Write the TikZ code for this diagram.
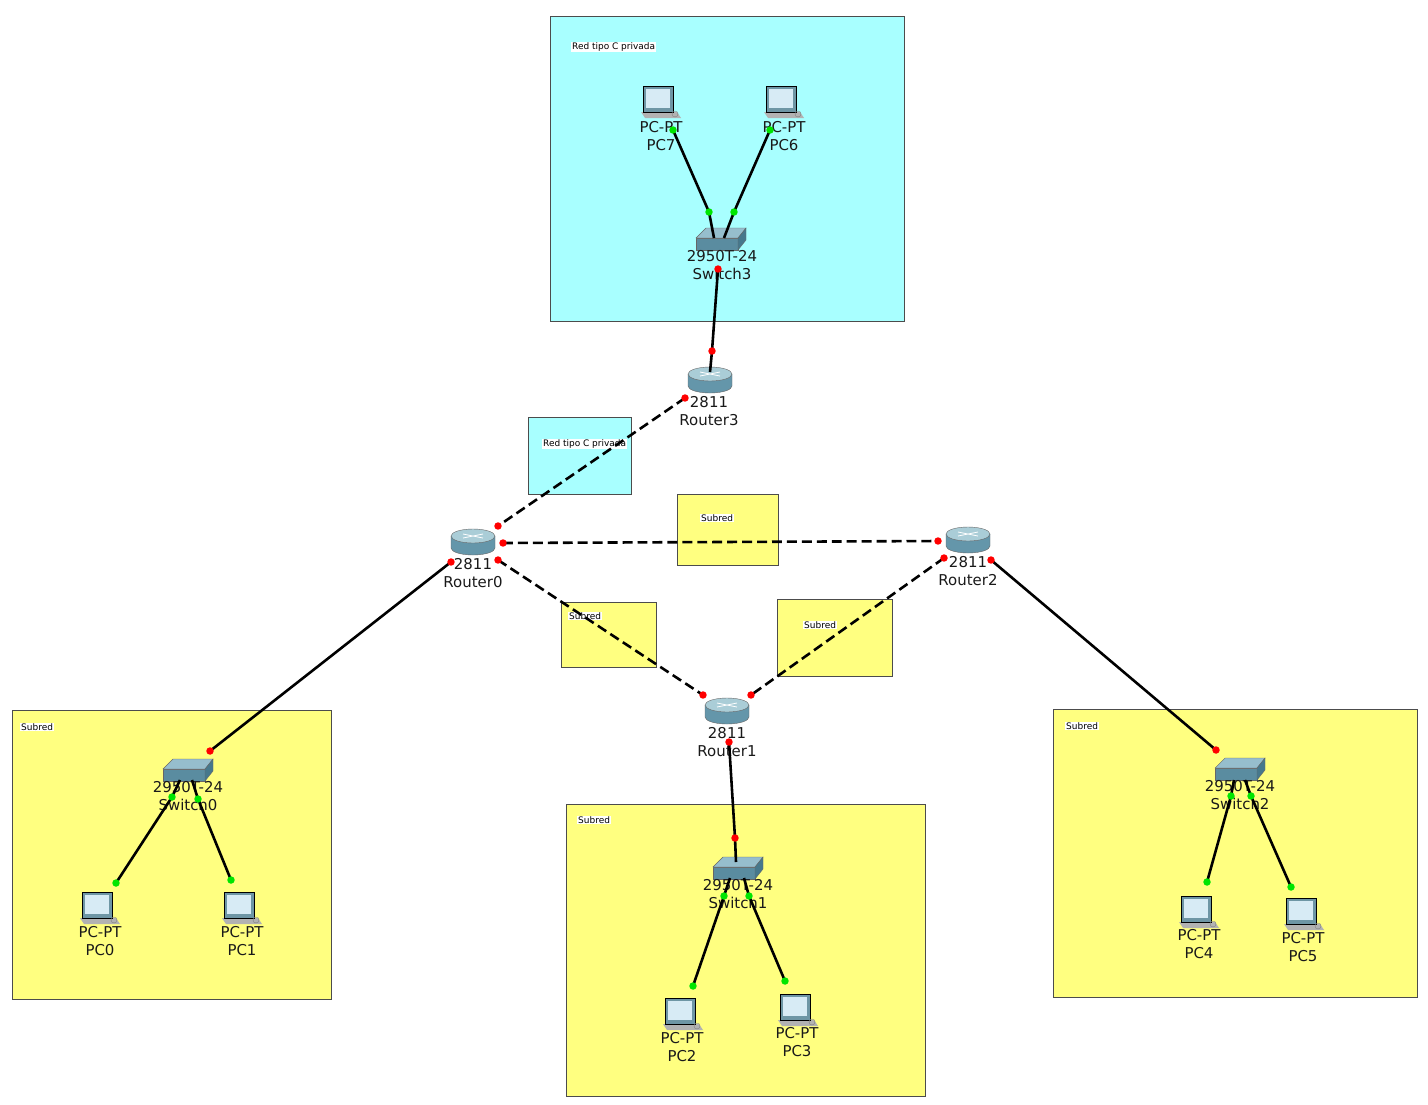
\documentclass[tikz,border=0pt]{standalone}
\usepackage{fontspec}
\setmainfont{DejaVu Sans}
\definecolor{cyanbg}{RGB}{168,255,255}
\definecolor{yelbg}{RGB}{255,255,128}
\definecolor{monfr}{RGB}{110,150,165}
\definecolor{monsc}{RGB}{215,235,245}
\definecolor{swfront}{RGB}{90,140,160}
\definecolor{swtop}{RGB}{150,190,205}
\definecolor{swside}{RGB}{70,120,140}
\definecolor{rtbody}{RGB}{100,150,170}
\definecolor{rttop}{RGB}{170,205,215}
\begin{document}
\begin{tikzpicture}[x=1bp,y=-1bp,
  area/.style={draw=black!70,line width=0.8pt},
  cyanA/.style={area,fill=cyanbg},
  yelA/.style={area,fill=yelbg},
  tag/.style={fill=white,inner sep=1pt,anchor=west,font=\fontsize{9}{10}\selectfont},
  lbl/.style={align=center,font=\fontsize{15}{18}\selectfont,text=black!90,anchor=north,inner sep=0pt},
  link/.style={line width=2.6pt,black},
  dlink/.style={link,dash pattern=on 10pt off 5pt},
  rd/.style={circle,fill=red,inner sep=0pt,minimum size=7.5pt},
  gd/.style={circle,fill=green!90!black,inner sep=0pt,minimum size=7.5pt}]
\useasboundingbox (0,0) rectangle (1428,1104);
\newcommand\pcicon[2]{%
  \begin{scope}[shift={(#1,#2)}]
  \fill[gray!60] (-18,10) -- (18,10) -- (22,16) -- (-14,16) -- cycle;
  \draw[fill=monfr] (-16,-16) rectangle (14,10);
  \fill[monsc] (-13,-13) rectangle (11,6);
  \draw[gray] (16,12) circle (3bp);
  \end{scope}}
\newcommand\swicon[2]{%
  \begin{scope}[shift={(#1,#2)}]
  \draw[black!60,fill=swfront] (-24,0) -- (18,0) -- (18,12) -- (-24,12) -- cycle;
  \draw[black!60,fill=swtop] (-24,0) -- (-14,-10) -- (26,-10) -- (18,0) -- cycle;
  \draw[black!60,fill=swside] (18,0) -- (26,-10) -- (26,2) -- (18,12) -- cycle;
  \end{scope}}
\newcommand\rticon[2]{%
  \begin{scope}[shift={(#1,#2)}]
  \draw[black!60,fill=rtbody] (-22,0) -- (-22,12) arc[start angle=180,end angle=0,x radius=22,y radius=7] -- (22,0);
  \draw[black!60,fill=rttop] (0,0) ellipse[x radius=22,y radius=7];
  \draw[white,thick] (-10,-2)--(10,2) (-10,2)--(10,-2);
  \end{scope}}
% areas
\node[cyanA,minimum width=354bp,minimum height=305bp,anchor=north west] (a1) at (550,16) {};
\node[tag] (t1) at (571,47) {Red tipo C privada};
\node[cyanA,minimum width=103bp,minimum height=77bp,anchor=north west] (a2) at (528,417) {};
\node[tag] (t2) at (542,444) {Red tipo C privada};
\node[yelA,minimum width=101bp,minimum height=71bp,anchor=north west] (a3) at (677,494) {};
\node[tag] (t3) at (700,518) {Subred};
\node[yelA,minimum width=95bp,minimum height=65bp,anchor=north west] (a4) at (561,602) {};
\node[tag] (t4) at (568,616) {Subred};
\node[yelA,minimum width=115bp,minimum height=77bp,anchor=north west] (a5) at (777,599) {};
\node[tag] (t5) at (803,625) {Subred};
\node[yelA,minimum width=319bp,minimum height=289bp,anchor=north west] (a6) at (12,710) {};
\node[tag] (t6) at (20,727) {Subred};
\node[yelA,minimum width=359bp,minimum height=292bp,anchor=north west] (a7) at (566,804) {};
\node[tag] (t7) at (577,820) {Subred};
\node[yelA,minimum width=364bp,minimum height=288bp,anchor=north west] (a8) at (1053,709) {};
\node[tag] (t8) at (1065,726) {Subred};
% icons
\pcicon{659}{102}\pcicon{782}{102}
\pcicon{98}{908}\pcicon{240}{908}
\pcicon{681}{1014}\pcicon{796}{1010}
\pcicon{1197}{912}\pcicon{1302}{914}
\swicon{720}{238}\swicon{187}{769}\swicon{737}{867}\swicon{1239}{768}
\rticon{710}{374}\rticon{473}{536}\rticon{968}{534}\rticon{727}{705}
% labels
\node[lbl] (pc7) at (661,121) {PC-PT\\PC7};
\node[lbl] (pc6) at (784,121) {PC-PT\\PC6};
\node[lbl] (sw3) at (722,250) {2950T-24\\Switch3};
\node[lbl] (r3) at (709,396) {2811\\Router3};
\node[lbl] (r0) at (473,558) {2811\\Router0};
\node[lbl] (r2) at (968,556) {2811\\Router2};
\node[lbl] (r1) at (727,727) {2811\\Router1};
\node[lbl] (sw0) at (188,781) {2950T-24\\Switch0};
\node[lbl] (sw1) at (738,879) {2950T-24\\Switch1};
\node[lbl] (sw2) at (1240,780) {2950T-24\\Switch2};
\node[lbl] (pc0) at (100,926) {PC-PT\\PC0};
\node[lbl] (pc1) at (242,926) {PC-PT\\PC1};
\node[lbl] (pc2) at (682,1032) {PC-PT\\PC2};
\node[lbl] (pc3) at (797,1027) {PC-PT\\PC3};
\node[lbl] (pc4) at (1199,929) {PC-PT\\PC4};
\node[lbl] (pc5) at (1303,932) {PC-PT\\PC5};
% port points
\foreach \n/\x/\y in {a/673/130,b/709/212,c/770/130,d/734/212,
  e/718/269,f/712/351,g/685/398,h/498/526,i/503/543,j/938/541,
  k/498/560,l/703/695,m/944/558,n/751/695,o/729/742,p/735/838,
  q/451/562,r/210/751,s/991/560,t/1216/750,
  u/172/797,v/116/883,w/198/799,z/231/880,
  a2/724/896,b2/693/986,c2/749/896,d2/785/981,
  e2/1231/796,f2/1207/882,g2/1251/796,h2/1291/887}
  \coordinate (\n) at (\x,\y);
\draw[link] (a) -- (b) -- (714,238);
\draw[link] (c) -- (d) -- (724,238);
\draw[link] (e) -- (f) -- (710,372);
\draw[dlink] (g) -- (h);
\draw[dlink] (i) -- (j);
\draw[dlink] (k) -- (l);
\draw[dlink] (m) -- (n);
\draw[link] (o) -- (p) -- (736,862);
\draw[link] (q) -- (r);
\draw[link] (s) -- (t);
\draw[link] (180,780) -- (u) -- (v);
\draw[link] (192,780) -- (w) -- (z);
\draw[link] (730,878) -- (a2) -- (b2);
\draw[link] (744,878) -- (c2) -- (d2);
\draw[link] (1234,780) -- (e2) -- (f2);
\draw[link] (1245,780) -- (g2) -- (h2);
\foreach \n in {a,b,c,d,u,v,w,z,a2,b2,c2,d2,e2,f2,g2,h2} \node[gd] at (\n) {};
\foreach \n in {e,f,g,h,i,j,k,l,m,n,o,p,q,r,s,t} \node[rd] at (\n) {};
\end{tikzpicture}
\end{document}
